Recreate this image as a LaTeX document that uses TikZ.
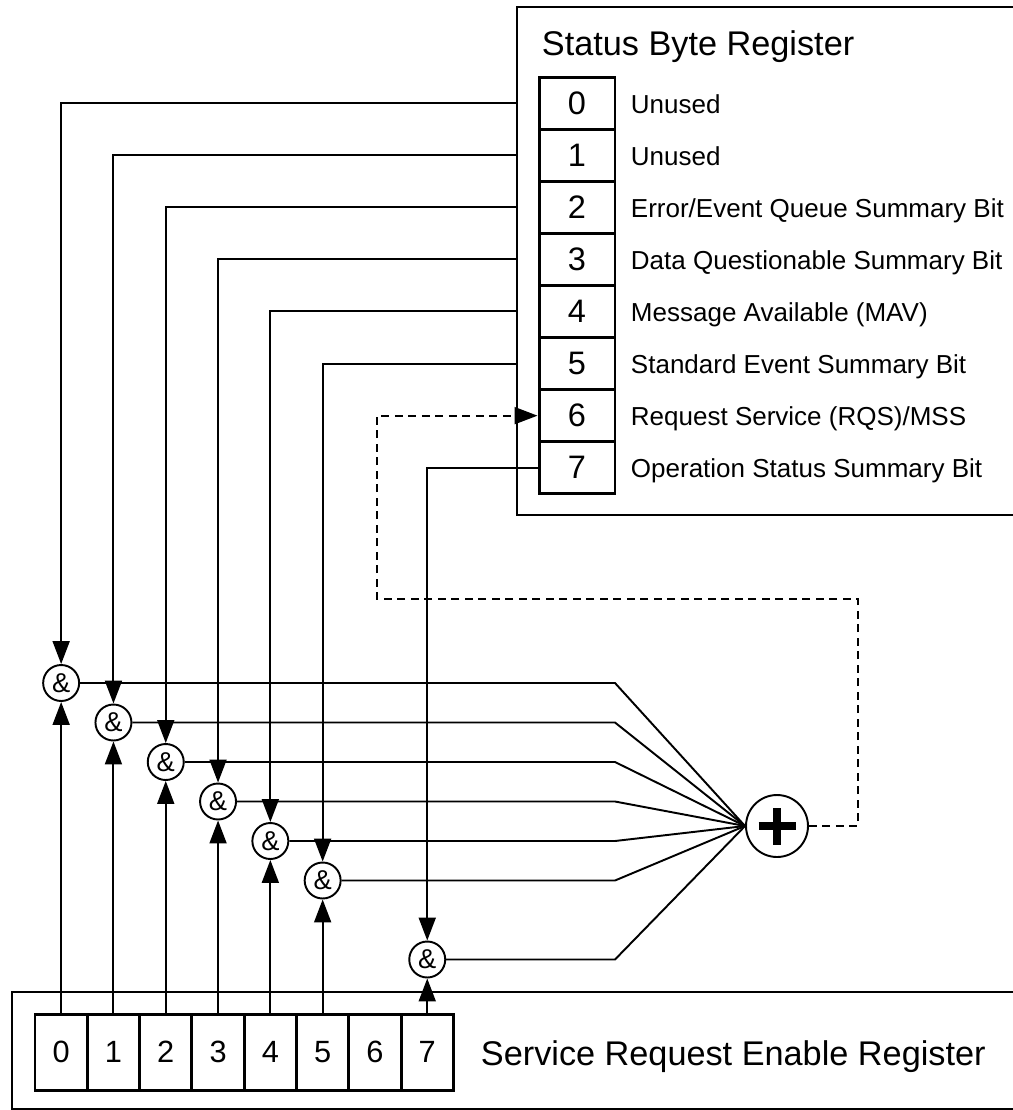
\documentclass[tikz,border=0pt]{standalone}
\usepackage{fontspec}
\setmainfont{Liberation Sans}
\usepackage{tikz}
\usetikzlibrary{positioning}
\usetikzlibrary{arrows.meta}
\tikzset{sbcell/.style={draw,line width=1.7pt,minimum width=1.52cm,minimum height=1.042cm,inner sep=0pt,font=\fontsize{18.5pt}{19pt}\selectfont}}
\tikzset{srcell/.style={draw,line width=1.7pt,minimum width=1.046cm,minimum height=1.52cm,inner sep=0pt,font=\fontsize{17.5pt}{18pt}\selectfont}}
\tikzset{sblabel/.style={anchor=base west,inner sep=0pt,font=\fontsize{14.8pt}{17pt}\selectfont}}
\tikzset{regtitle/.style={anchor=base west,inner sep=0pt,font=\fontsize{19.5pt}{22pt}\selectfont}}
\tikzset{gate/.style={draw,circle,minimum size=0.72cm,inner sep=0pt,font=\fontsize{15.5pt}{16pt}\selectfont}}
\tikzset{sumnode/.style={draw,circle,minimum size=1.24cm,inner sep=0pt}}
\tikzset{dashedline/.style={dash pattern=on 0.16cm off 0.11cm}}

\begin{document}
\begin{tikzpicture}[x=0.02cm,y=-0.02cm,line width=1.1pt,>={Triangle[length=0.46cm,width=0.34cm]}]
\useasboundingbox (0,0) rectangle (1013,1110);
% status byte register
\draw (1013,7) -- (517,7) -- (517,515) -- (1013,515);
\coordinate (sbleft) at (517,0);
\node[regtitle] (sbtitle) at (541,55) {Status Byte Register};
\foreach \i/\txt in {0/Unused,1/Unused,2/{Error/Event Queue Summary Bit},3/{Data Questionable Summary Bit},4/{Message Available (MAV)},5/{Standard Event Summary Bit},6/{Request Service (RQS)/MSS},7/{Operation Status Summary Bit}} {
\node[sbcell] (s\i) at (577,103.05+52.1*\i) {\i};
\node[sblabel] (l\i) at (630,113+52.1*\i) {\txt};
}
% service request enable register
\draw (1013,992) -- (12,992) -- (12,1109) -- (1013,1109);
\foreach \i in {0,...,7} {
\node[srcell] (e\i) at (61.15+52.3*\i,1052) {\i};
}
\node[regtitle] (srtitle) at (480,1065) {Service Request Enable Register};
% summary
\node[sumnode] (plus) at (777,826) {};
\draw[line width=4pt] ([xshift=-0.37cm]plus.center) -- ([xshift=0.37cm]plus.center);
\draw[line width=4pt] ([yshift=-0.37cm]plus.center) -- ([yshift=0.37cm]plus.center);
\coordinate (fanx) at (615,0);
\foreach \i in {0,1,2,3,4,5,7} {
\node[gate] (g\i) at (61.15+52.3*\i,683+39.5*\i) {\&};
\draw[->] (e\i.north) -- (g\i.south);
\draw (g\i.east) -- (g\i.east -| fanx) -- (plus.west);
}
\foreach \i in {0,...,5} {
\draw[->] (s\i.west -| sbleft) -| (g\i.north);
}
\draw[->] (s7.west) -| (g7.north);
% request service feedback
\coordinate (fbr) at (858,599);
\coordinate (fbl) at (377,599);
\draw[dashedline,->] (plus.east) -| (fbr) -- (fbl) |- (s6.west);
\end{tikzpicture}
\end{document}
